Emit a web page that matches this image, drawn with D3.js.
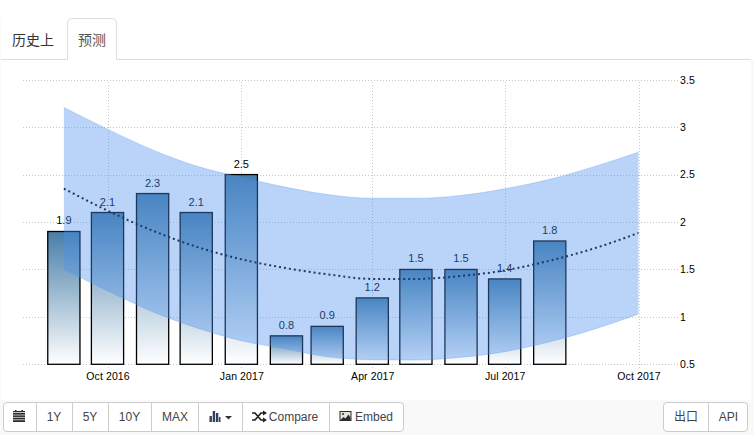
<!DOCTYPE html>
<html><head><meta charset="utf-8">
<script src="https://cdnjs.cloudflare.com/ajax/libs/d3/7.8.5/d3.min.js"></script>
<style>
html,body{margin:0;padding:0;background:#fff;overflow:hidden}
svg{display:block}
text{font-family:"Liberation Sans",Arial,sans-serif}
</style></head><body><div id="c"></div>
<script>
const barDates=["2016-09-01","2016-10-01","2016-11-01","2016-12-01","2017-01-01","2017-02-01","2017-03-01","2017-04-01","2017-05-01","2017-06-01","2017-07-01","2017-08-01"];
const barValues=[1.9,2.1,2.3,2.1,2.5,0.8,0.9,1.2,1.5,1.5,1.4,1.8];
const fcDates=["2016-09-01","2016-10-01","2016-11-01","2016-12-01","2017-01-01","2017-02-01","2017-03-01","2017-04-01","2017-05-01","2017-06-01","2017-07-01","2017-08-01","2017-09-01","2017-10-01"];
const fcUpper=[3.207,2.979,2.76,2.59,2.47,2.365,2.29,2.25,2.25,2.28,2.35,2.45,2.586,2.736];
const fcMid=[2.352,2.12,1.909,1.74,1.607,1.513,1.449,1.40,1.40,1.431,1.49,1.593,1.724,1.885];
const fcLower=[1.498,1.276,1.055,0.886,0.749,0.661,0.58,0.549,0.545,0.574,0.633,0.738,0.872,1.03];
const xTickDates=["2016-10-01","2017-01-01","2017-04-01","2017-07-01","2017-10-01"];
const xTickLabels=["Oct 2016","Jan 2017","Apr 2017","Jul 2017","Oct 2017"];
const yTicks=[0.5,1,1.5,2,2.5,3,3.5];
const tabLabels=["历史上","预测"];
const leftButtons=["","1Y","5Y","10Y","MAX","","Compare","Embed"];
const rightButtons=["出口","API"];

const W=754,H=435;
const svg=d3.select("#c").append("svg").attr("width",W).attr("height",H);
const pd=d3.utcParse("%Y-%m-%d");
const x=d3.scaleUtc().domain([pd("2016-10-01"),pd("2017-10-01")]).range([107.5,638.5]);
const y=d3.scaleLinear().domain([0.5,3.5]).range([364.3,79.7]);

// page frame
svg.append("rect").attr("x",0).attr("y",400).attr("width",W).attr("height",35).attr("fill","#f9f9f9");
svg.append("rect").attr("x",751).attr("y",60).attr("width",3).attr("height",340).attr("fill","#f9f9f9");
svg.append("rect").attr("x",0).attr("y",20).attr("width",1).attr("height",380).attr("fill","#f9f9f9");

// tabs
svg.append("line").attr("x1",1).attr("x2",W-3).attr("y1",59.5).attr("y2",59.5).attr("stroke","#ddd");
svg.append("path").attr("d","M67.5,59.5V22.5a4,4 0 0 1 4,-4H112.5a4,4 0 0 1 4,4V59.5Z").attr("fill","#fff").attr("stroke","#ddd");
svg.append("line").attr("x1",68).attr("x2",116).attr("y1",59.5).attr("y2",59.5).attr("stroke","#fff");
const cjk='"Noto Sans CJK SC",sans-serif';
svg.append("text").attr("x",12).attr("y",45).attr("font-size",14).style("font-family",cjk).attr("fill","#333").text(tabLabels[0]);
svg.append("text").attr("x",78).attr("y",45).attr("font-size",14).style("font-family",cjk).attr("fill","#555").text(tabLabels[1]);

// axes + grid
const xAxis=d3.axisBottom(x).tickValues(xTickDates.map(pd)).tickSize(-284.6-4).tickPadding(4)
  .tickFormat((d,i)=>xTickLabels[i]);
const gx=svg.append("g").attr("transform","translate(0,368.3)").call(xAxis);
const yAxis=d3.axisRight(y).tickValues(yTicks).tickSize(655).tickPadding(2).tickFormat(d3.format("~g"));
const gy=svg.append("g").attr("transform","translate(23,0)").call(yAxis);
[gx,gy].forEach(g=>{
  g.select(".domain").remove();
  g.selectAll("line").attr("stroke","#c8c8c8").attr("stroke-dasharray","1,2").attr("shape-rendering","crispEdges");
  g.selectAll("text").attr("fill","#000").attr("font-size",10.5).style("font-family",'"Liberation Sans",Arial,sans-serif').style("letter-spacing","0.1px");
});

// bars
const defs=svg.append("defs");
const grad=defs.append("linearGradient").attr("id","barFill").attr("x1",0).attr("y1",0).attr("x2",0).attr("y2",1);
grad.append("stop").attr("offset",0).attr("stop-color","#477ea8");
grad.append("stop").attr("offset",1).attr("stop-color","#ffffff");
const bw=32.2;
svg.append("g").selectAll("rect").data(barValues).join("rect")
  .attr("x",(d,i)=>x(pd(barDates[i]))-bw/2)
  .attr("y",d=>y(d)).attr("width",bw).attr("height",d=>y(0.5)-y(d))
  .attr("fill","url(#barFill)").attr("stroke","#000").attr("stroke-width",1.3);
svg.append("g").selectAll("text").data(barValues).join("text")
  .attr("x",(d,i)=>x(pd(barDates[i])))
  .attr("y",d=>y(d)-7).attr("text-anchor","middle").attr("font-size",11).attr("fill","#000")
  .text(d=>d3.format(".1f")(d));

// forecast band
const fc=fcDates.map((d,i)=>({d:pd(d),u:fcUpper[i],m:fcMid[i],l:fcLower[i]}));
const curve=d3.curveMonotoneX;
svg.append("path").datum(fc).attr("d",d3.area().x(d=>x(d.d)).y0(d=>y(d.l)).y1(d=>y(d.u)).curve(curve))
  .attr("fill","#4b91ed").attr("fill-opacity",0.39);
["u","l"].forEach(k=>svg.append("path").datum(fc)
  .attr("d",d3.line().x(d=>x(d.d)).y(d=>y(d[k])).curve(curve))
  .attr("fill","none").attr("stroke","#4b91ed").attr("stroke-opacity",0.3).attr("stroke-width",1));
svg.append("path").datum(fc).attr("d",d3.line().x(d=>x(d.d)).y(d=>y(d.m)).curve(curve))
  .attr("fill","none").attr("stroke","#1d3a63").attr("stroke-width",2).attr("stroke-dasharray","2,3");

// toolbar
function group(x0,edges,labels){
  const g=svg.append("g");
  const x1=edges[edges.length-1];
  g.append("rect").attr("x",x0+.5).attr("y",402.5).attr("width",x1-x0-1).attr("height",29).attr("rx",3.5)
    .attr("fill","#fff").attr("stroke","#ccc");
  edges.slice(0,-1).forEach(e=>g.append("line").attr("x1",e+.5).attr("x2",e+.5).attr("y1",403).attr("y2",431).attr("stroke","#ccc"));
  return g;
}
const leftEdges=[36,72,108,151,198,242,329,404];
const g1=group(3,leftEdges,leftButtons);
const label=(g,cx,t,f)=>g.append("text").attr("x",cx).attr("y",421).attr("text-anchor","middle").attr("font-size",12).attr("fill","#444").style("font-family",f||null).text(t);
label(g1,54,leftButtons[1]);label(g1,90,leftButtons[2]);label(g1,129.5,leftButtons[3]);label(g1,175,leftButtons[4]);
label(g1,293.5,leftButtons[6]);label(g1,374,leftButtons[7]);
const g2=group(663,[708,748],rightButtons);
label(g2,686,rightButtons[0],cjk);label(g2,728.5,rightButtons[1]);

// icons
const ic="#2c2c2c";
g1.append("path").attr("fill",ic).attr("d","M13,411h12v1.2h-12zM13,413h12v9h-12zM15,410h1.5v2h-1.5zM21.5,410h1.5v2h-1.5z");
[415,417.4,419.8].forEach(v=>g1.append("line").attr("x1",13).attr("x2",25).attr("y1",v).attr("y2",v).attr("stroke","#fff").attr("stroke-width",.7));
g1.append("path").attr("fill","#33425c").attr("d","M209.5,416h2.4v6h-2.4zM212.7,411h2.4v11h-2.4zM215.9,413h2.4v9h-2.4zM218.9,417h1.6v5h-1.6z");
g1.append("path").attr("fill","#333").attr("d","M225,416h7l-3.5,3.6z");
g1.append("path").attr("fill","none").attr("stroke","#222").attr("stroke-width",1.7)
  .attr("d","M252,413h3l6,7h3M252,420h3l6,-7h3");
g1.append("path").attr("fill","#222").attr("d","M263,410.5l4,2.5l-4,2.5zM263,417.5l4,2.5l-4,2.5z");
g1.append("rect").attr("x",339.5).attr("y",411).attr("width",12).attr("height",10).attr("fill","#2b2b2b");
g1.append("rect").attr("x",340.5).attr("y",412).attr("width",10).attr("height",8).attr("fill","#e9e2d6");
g1.append("path").attr("fill","#2b2b2b").attr("d","M340.5,420l3,-3l2,1.5l3,-4l2,3v2.5z");
g1.append("circle").attr("cx",343).attr("cy",414).attr("r",1).attr("fill","#2b2b2b");
</script></body></html>
